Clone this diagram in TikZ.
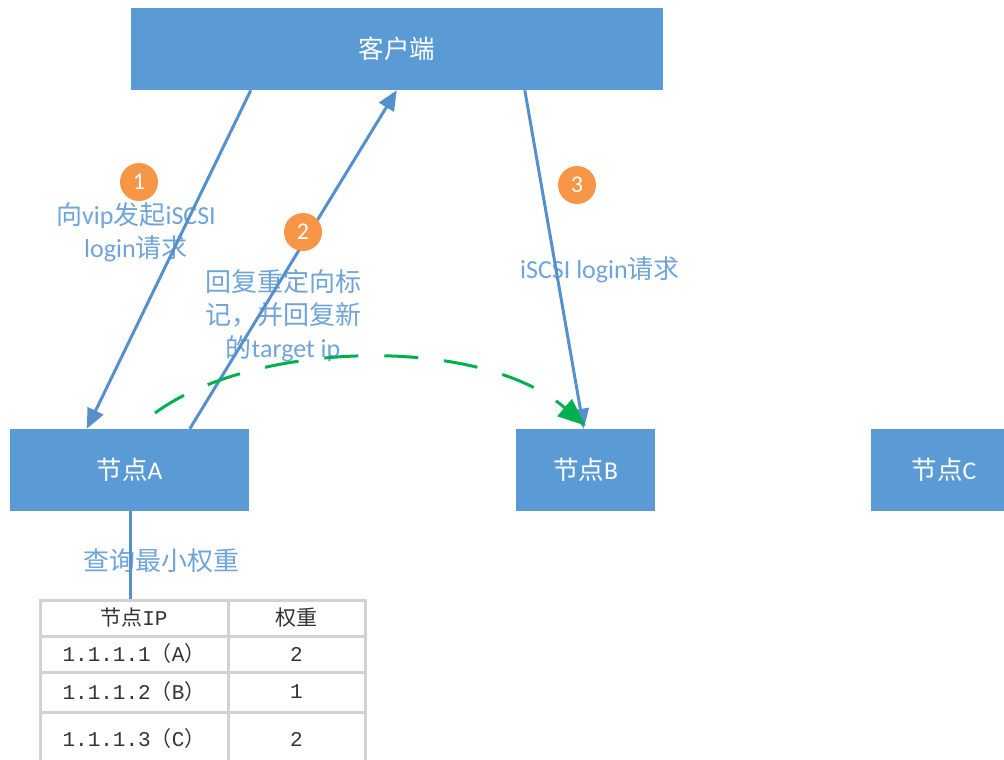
\documentclass[tikz,border=0pt]{standalone}
\usepackage{fontspec}
\setmainfont{Carlito}
\newfontfamily\cjk{Noto Sans CJK SC}
\newfontfamily\tabmono{Liberation Mono}
\usetikzlibrary{arrows.meta}

\definecolor{boxblue}{HTML}{5B9BD5}
\definecolor{linkblue}{HTML}{5590CC}
\definecolor{labelblue}{HTML}{6FA3DA}
\definecolor{stepor}{HTML}{F79646}
\definecolor{redirgreen}{HTML}{00B050}
\definecolor{gridgray}{HTML}{D2D2D2}

\tikzset{
  hostbox/.style={rectangle, fill=boxblue, draw=none, inner sep=0pt,
    text=white, font=\fontsize{25.5}{30}\selectfont},
  flow/.style={draw=linkblue, line width=3pt,
    -{Triangle[length=20pt,width=17pt]}},
  badge/.style={circle, fill=stepor, draw=none, minimum size=38pt, inner sep=0pt,
    text=white, font=\fontsize{24}{28}\selectfont},
  note/.style={text=labelblue, align=center, inner sep=0pt,
    font=\fontsize{26}{33}\selectfont},
  cell/.style={rectangle, draw=gridgray, line width=3pt, inner sep=0pt,
    font=\fontsize{21}{24}\selectfont, text=black!80},
}

\begin{document}
\begin{tikzpicture}[x=1pt, y=-1pt]
  \useasboundingbox (0,0) rectangle (1004,760);

  % hosts
  \node[hostbox, minimum width=532pt, minimum height=82pt] (client) at (397,49) {\cjk 客户端};
  \node[hostbox, minimum width=239pt, minimum height=82pt] (A) at (129.5,470) {{\cjk 节点}A};
  \node[hostbox, minimum width=139pt, minimum height=82pt] (B) at (585.5,470) {{\cjk 节点}B};
  \node[hostbox, minimum width=146pt, minimum height=82pt] (C) at (944,470) {{\cjk 节点}C};

  % weight table
  \node[cell, minimum width=188pt, minimum height=36pt] (h1) at (134,618) {{\cjk 节点}{\tabmono IP}};
  \node[cell, minimum width=137pt, minimum height=36pt] (h2) at (296.5,618) {\cjk 权重};
  \node[cell, minimum width=188pt, minimum height=36pt] (r1a) at (134,654) {{\tabmono 1.1.1.1}{\cjk （}{\tabmono A}{\cjk ）}};
  \node[cell, minimum width=137pt, minimum height=36pt] (r1b) at (296.5,654) {\tabmono 2};
  \node[cell, minimum width=188pt, minimum height=40pt] (r2a) at (134,692) {{\tabmono 1.1.1.2}{\cjk （}{\tabmono B}{\cjk ）}};
  \node[cell, minimum width=137pt, minimum height=40pt] (r2b) at (296.5,692) {\tabmono 1};
  \node[cell, minimum width=188pt, minimum height=54pt] (r3a) at (134,739) {{\tabmono 1.1.1.3}{\cjk （}{\tabmono C}{\cjk ）}};
  \node[cell, minimum width=137pt, minimum height=54pt] (r3b) at (296.5,739) {\tabmono 2};

  % labels
  \node[note] (t1) at (136,232) {{\cjk 向}vip{\cjk 发起}iSCSI\\login{\cjk 请求}};
  \node[note] (t2) at (283,316) {\cjk 回复重定向标\\\cjk 记，并回复新\\{\cjk 的}target ip};
  \node[note] (t3) at (600,270) {iSCSI login{\cjk 请求}};
  \node[note] (t4) at (161,561) {\cjk 查询最小权重};

  % query link from node A down to the table
  \draw[draw=linkblue, line width=3pt] ([xshift=0.5pt]A.south) -- ([xshift=-4pt]h1.north);

  % request / reply arrows
  \draw[flow] ([xshift=120pt]client.south west) -- ([xshift=77pt]A.north west);
  \draw[flow] ([xshift=180pt]A.north west) -- ([xshift=266pt]client.south west);
  \draw[flow] ([xshift=394pt]client.south west) -- ([xshift=68pt]B.north west);

  % redirection to node B
  \coordinate (gstart) at (155,413);
  \draw[draw=redirgreen, line width=3pt, dash pattern=on 34pt off 26pt,
        -{Triangle[length=28pt,width=22pt]}]
    (gstart) .. controls (255,340) and (480,335) .. ([xshift=70pt,yshift=3pt]B.north west);

  % step badges
  \node[badge] (s1) at (139,182) {1};
  \node[badge] (s2) at (303,232) {2};
  \node[badge] (s3) at (577,185) {3};
\end{tikzpicture}
\end{document}
